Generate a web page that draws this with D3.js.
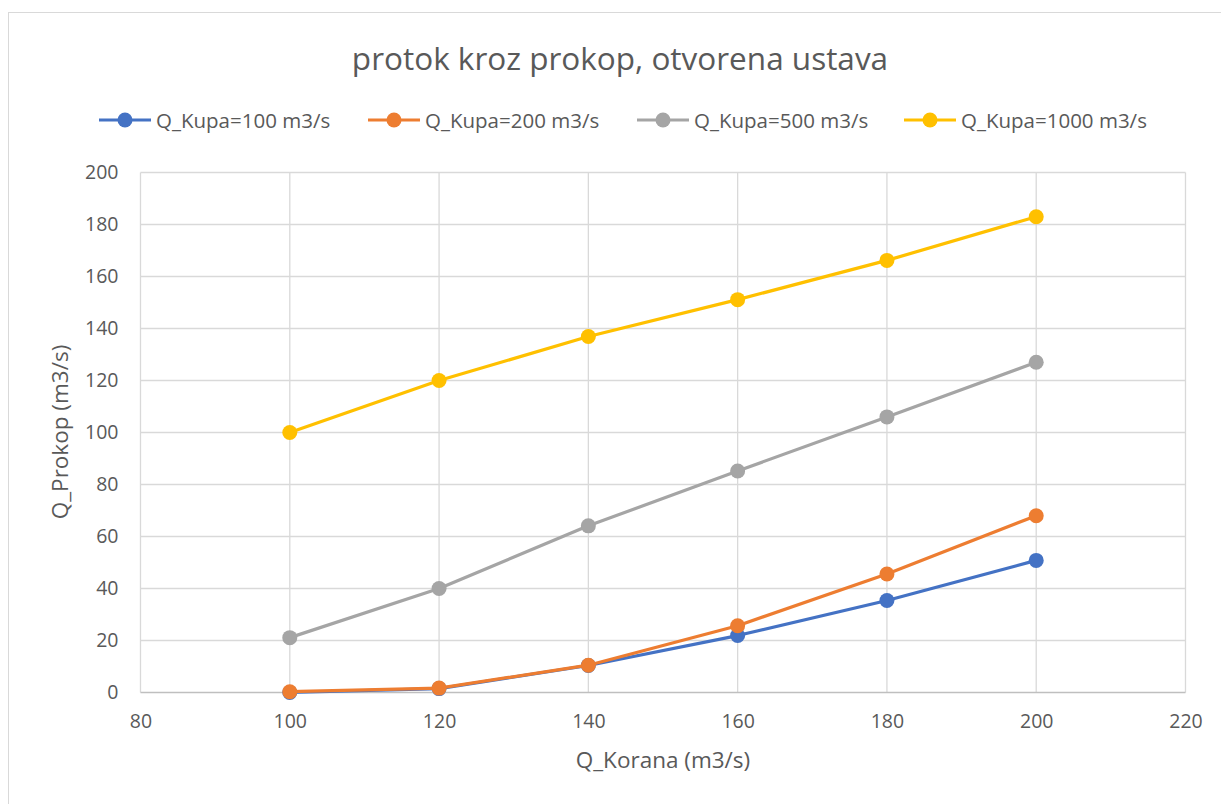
<!DOCTYPE html>
<html><head><meta charset="utf-8">
<script src="https://cdn.jsdelivr.net/npm/d3@7"></script>
<style>body{margin:0;background:#fff}svg{display:block}text{font-family:"Open Sans",sans-serif}</style>
</head><body>
<svg id="c" width="1221" height="804"></svg>
<script>
const xValues = [100, 120, 140, 160, 180, 200];
const seriesNames = ["Q_Kupa=100 m3/s", "Q_Kupa=200 m3/s", "Q_Kupa=500 m3/s", "Q_Kupa=1000 m3/s"];
const kupa100 = [0, 1.5, 10.4, 21.9, 35.4, 50.8];
const kupa200 = [0.3, 1.7, 10.5, 25.7, 45.6, 68.0];
const kupa500 = [21.1, 40.0, 64.1, 85.2, 106.0, 127.0];
const kupa1000 = [100.0, 120.0, 136.9, 151.1, 166.2, 183.0];
const colors = ["#4472c4", "#ed7d31", "#a5a5a5", "#ffc000"];
const xTicks = [80, 100, 120, 140, 160, 180, 200, 220];
const yTicks = [0, 20, 40, 60, 80, 100, 120, 140, 160, 180, 200];
const title = "protok kroz prokop, otvorena ustava";
const xTitle = "Q_Korana (m3/s)";
const yTitle = "Q_Prokop (m3/s)";

const series = [kupa100, kupa200, kupa500, kupa1000];
const svg = d3.select("#c");
// chart border
svg.append("rect").attr("x", 8.5).attr("y", 12.5).attr("width", 1230).attr("height", 800)
  .attr("fill", "none").attr("stroke", "#d9d9d9");

const x = d3.scaleLinear().domain([80, 220]).range([140.5, 1185.5]);
const y = d3.scaleLinear().domain([0, 200]).range([692.5, 172.5]);

const g = svg.append("g");
// grid
g.selectAll(".vg").data(xTicks).join("line")
  .attr("x1", d => x(d)).attr("x2", d => x(d)).attr("y1", y(200)).attr("y2", y(0))
  .attr("stroke", "#d9d9d9").attr("stroke-width", 1.3);
g.selectAll(".hg").data(yTicks).join("line")
  .attr("x1", x(80)).attr("x2", x(220)).attr("y1", d => y(d)).attr("y2", d => y(d))
  .attr("stroke", d => d === 0 ? "#bfbfbf" : "#d9d9d9").attr("stroke-width", 1.3);

const tickFont = 19.5;
const xAxis = svg.append("g").attr("transform", `translate(0,${y(0)})`)
  .call(d3.axisBottom(x).tickValues(xTicks).tickSize(0).tickPadding(22));
xAxis.select(".domain").remove();
xAxis.selectAll("text").attr("fill", "#595959").attr("font-size", tickFont).attr("font-family", "Open Sans");
const yAxis = svg.append("g").attr("transform", `translate(${x(80)},0)`)
  .call(d3.axisLeft(y).tickValues(yTicks).tickSize(0).tickPadding(22));
yAxis.select(".domain").remove();
yAxis.selectAll("text").attr("fill", "#595959").attr("font-size", tickFont).attr("font-family", "Open Sans");

// lines
const line = d3.line().x((d, i) => x(xValues[i])).y(d => y(d));
series.forEach((s, k) => {
  g.append("path").attr("d", line(s)).attr("fill", "none")
    .attr("stroke", colors[k]).attr("stroke-width", 3.2).attr("stroke-linejoin", "round").attr("stroke-linecap", "round");
  g.selectAll(null).data(s).join("circle")
    .attr("cx", (d, i) => x(xValues[i])).attr("cy", d => y(d)).attr("r", 7.5).attr("fill", colors[k]);
});

// title
svg.append("text").attr("x", 620).attr("y", 70).attr("text-anchor", "middle")
  .attr("font-size", 31.5).attr("fill", "#595959").text(title);
// axis titles
svg.append("text").attr("x", 663).attr("y", 768).attr("text-anchor", "middle")
  .attr("font-size", 22.5).attr("fill", "#595959").text(xTitle);
svg.append("text").attr("transform", "translate(68,432) rotate(-90)").attr("text-anchor", "middle")
  .attr("font-size", 22.5).attr("fill", "#595959").text(yTitle);

// legend
const legX = [99, 368, 637, 904];
const leg = svg.append("g");
seriesNames.forEach((n, k) => {
  const lx = legX[k];
  leg.append("line").attr("x1", lx).attr("x2", lx + 52).attr("y1", 120).attr("y2", 120)
    .attr("stroke", colors[k]).attr("stroke-width", 3.2);
  leg.append("circle").attr("cx", lx + 26).attr("cy", 120).attr("r", 7.5).attr("fill", colors[k]);
  leg.append("text").attr("x", lx + 57).attr("y", 127.5).attr("font-size", 20.5)
    .attr("fill", "#595959").text(n);
});
</script>
</body></html>
